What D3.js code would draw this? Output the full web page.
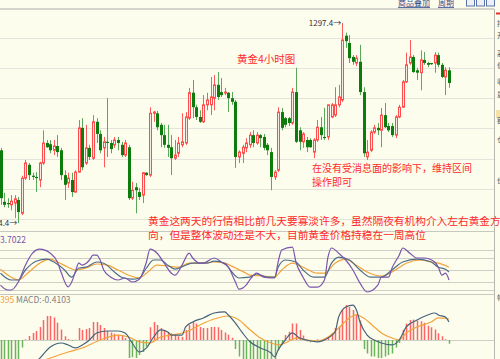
<!DOCTYPE html>
<meta charset="utf-8">
<style>
body { margin: 0; background: #fdfdee; }
svg { display: block; }
text { font-family: "Noto Sans CJK SC", "Noto Sans", sans-serif; }
</style>
<svg></svg>
<script src="https://d3js.org/d3.v7.min.js"></script>
<script>

var width = 500, height = 359;

// 4h candles
var opens = [1276.4,1267.9,1267.7,1267.4,1267.7,1268.2,1266.0,1271.8,1274.0,1272.2,1272.0,1271.5,1274.3,1277.6,1277.4,1276.4,1277.1,1276.4,1272.3,1271.0,
  1271.5,1269.5,1272.8,1280.1,1274.3,1276.8,1275.1,1281.1,1279.1,1276.8,1277.8,1277.6,1277.3,1278.1,1277.3,1275.6,1276.9,1268.5,1270.3,1269.5,
  1269.0,1272.7,1272.3,1282.5,1282.5,1280.6,1278.9,1277.3,1276.9,1275.1,1275.9,1277.3,1277.6,1281.7,1285.9,1283.5,1281.9,1281.1,1283.9,1283.9,
  1285.0,1287.2,1286.0,1285.9,1285.9,1285.0,1284.4,1275.3,1275.9,1276.8,1277.3,1278.9,1277.6,1278.9,1278.6,1277.3,1276.1,1272.0,1273.1,1282.7,
  1281.7,1281.7,1280.9,1286.0,1279.7,1277.8,1278.1,1278.1,1276.1,1278.1,1280.2,1278.6,1278.6,1281.9,1282.2,1283.9,1284.7,1295.3,1294.1,1291.8,
  1290.8,1291.0,1286.0,1275.3,1276.4,1279.4,1280.1,1279.7,1282.2,1280.4,1280.4,1278.9,1281.9,1283.5,1287.7,1290.8,1291.8,1289.6,1289.2,1291.3,
  1290.8,1290.8,1290.8,1292.1,1290.5,1288.5,1289.6];
var highs = [1276.8,1269.4,1268.5,1269.0,1269.0,1268.7,1272.2,1274.8,1274.3,1272.7,1272.8,1274.5,1279.7,1278.1,1278.1,1278.1,1278.9,1276.8,1273.1,1272.7,
  1272.7,1273.1,1281.4,1281.7,1280.6,1277.3,1282.2,1281.7,1279.7,1278.6,1285.0,1278.1,1278.6,1278.6,1277.8,1278.1,1277.3,1271.2,1271.0,1270.2,
  1272.8,1272.8,1283.5,1282.9,1282.9,1280.9,1280.6,1280.6,1278.9,1278.1,1278.6,1282.5,1282.7,1286.7,1288.0,1283.9,1283.0,1285.5,1285.9,1288.5,
  1288.8,1289.3,1288.3,1286.7,1286.0,1286.0,1284.7,1276.4,1277.3,1278.4,1279.4,1279.7,1279.4,1279.1,1279.1,1277.6,1276.8,1273.1,1283.5,1283.4,
  1281.9,1281.9,1286.7,1290.0,1280.2,1279.4,1278.6,1278.4,1278.4,1281.4,1281.9,1283.4,1283.9,1284.2,1286.8,1287.2,1297.4,1295.8,1295.4,1292.1,
  1292.1,1293.8,1286.8,1278.1,1279.7,1280.6,1280.9,1283.4,1284.2,1280.9,1280.9,1282.2,1283.9,1288.0,1292.5,1294.6,1292.1,1290.0,1292.9,1292.6,
  1291.0,1290.8,1292.6,1292.5,1290.8,1290.1,1290.1];
var lows = [1267.4,1267.0,1266.9,1266.5,1265.2,1264.4,1265.7,1271.5,1271.5,1271.5,1269.5,1270.3,1274.0,1276.8,1275.9,1275.6,1275.3,1271.5,1268.2,1270.2,
  1268.7,1269.4,1272.7,1273.1,1274.0,1274.8,1274.8,1277.6,1275.9,1273.6,1275.3,1275.9,1276.8,1276.4,1275.3,1275.3,1268.2,1268.2,1266.0,1268.2,
  1267.7,1272.2,1272.0,1281.1,1279.7,1276.9,1276.8,1275.3,1272.3,1274.8,1275.3,1276.9,1277.3,1281.4,1281.7,1281.4,1280.9,1280.9,1283.0,1282.2,
  1283.0,1284.7,1285.2,1285.5,1282.7,1283.9,1273.5,1274.3,1274.3,1276.1,1276.8,1276.9,1277.3,1276.9,1276.4,1275.6,1269.8,1271.5,1272.8,1279.7,
  1280.2,1280.4,1280.6,1277.6,1276.4,1276.8,1276.1,1276.8,1275.1,1277.8,1278.1,1278.1,1278.1,1281.7,1281.9,1283.5,1284.4,1293.3,1290.8,1290.5,
  1290.3,1285.5,1275.3,1274.8,1276.1,1279.1,1278.9,1276.9,1280.1,1279.4,1278.6,1278.4,1281.7,1283.4,1287.5,1290.5,1289.2,1288.0,1286.3,1290.5,
  1290.1,1290.5,1289.2,1290.1,1288.3,1285.5,1286.7];
var closes = [1268.5,1267.4,1267.5,1268.0,1268.4,1266.2,1271.8,1274.3,1272.3,1272.0,1271.8,1274.3,1277.6,1276.9,1276.4,1277.1,1276.1,1272.3,1270.7,1271.8,
  1269.5,1272.8,1280.1,1273.6,1276.8,1275.3,1281.1,1279.1,1276.4,1277.8,1277.6,1276.6,1278.1,1277.6,1275.6,1277.6,1268.5,1269.8,1269.8,1268.7,
  1272.7,1272.3,1282.5,1282.7,1280.2,1278.9,1277.3,1276.8,1275.1,1275.6,1277.6,1277.8,1281.9,1285.9,1283.5,1281.9,1281.1,1283.9,1284.7,1285.2,
  1287.2,1285.2,1285.5,1286.0,1285.0,1284.4,1275.3,1276.1,1276.9,1277.6,1278.9,1277.6,1278.9,1278.4,1276.8,1276.4,1272.0,1272.8,1282.7,1280.1,
  1280.6,1280.9,1286.0,1277.8,1277.8,1279.1,1276.9,1276.9,1278.1,1280.2,1278.9,1278.4,1283.9,1283.9,1283.9,1285.2,1294.6,1294.4,1291.6,1291.0,
  1291.6,1286.0,1275.9,1276.1,1279.4,1280.1,1279.7,1282.2,1280.2,1279.7,1278.9,1281.9,1283.5,1287.7,1290.5,1291.8,1289.3,1289.2,1291.3,1290.8,
  1290.5,1290.6,1292.1,1290.5,1288.5,1289.6,1287.5];

var priceTicks = [1265, 1270, 1275, 1280, 1285, 1290, 1295];

// KDJ lines: [candle index, value]
var kLine = [[0,42],[3,25],[5,25],[7,50],[10,72],[13,77],[15,70],[18,50],[20,32],[22,55],[24,57],[27,70],[29,67],[32,45],[34,32],[37,27],[39,30],
  [41,55],[43,75],[45,75],[47,62],[49,52],[52,62],[54,67],[58,67],[60,72],[63,67],[65,45],[67,30],[70,32],[72,40],[75,32],[77,32],[78,57],[80,75],
  [83,70],[85,50],[88,32],[91,32],[93,67],[95,82],[98,75],[101,50],[104,32],[107,32],[110,50],[113,70],[117,77],[121,70],[123,57],[125,52],[126,45]];
var dLine = [[0,52],[3,32],[5,25],[8,45],[11,67],[14,77],[16,70],[19,57],[21,50],[24,55],[27,65],[30,62],[33,50],[36,37],[39,30],[41,42],[44,62],
  [47,60],[50,57],[53,67],[56,67],[60,70],[63,67],[66,55],[69,42],[70,37],[74,35],[77,32],[79,50],[82,67],[85,57],[89,42],[91,42],[94,67],[97,77],
  [100,62],[103,45],[107,35],[110,45],[114,67],[118,75],[121,70],[123,67],[126,57]];
var jLine = [[0,12],[2,0],[3,0],[5,20],[7,62],[9,92],[11,102],[14,92],[16,70],[17,45],[19,8],[20,20],[21,45],[22,67],[23,62],[24,66],[25,75],[26,87],
  [27,87],[28,75],[29,50],[31,32],[33,25],[35,30],[37,20],[39,27],[41,70],[42,102],[44,92],[46,67],[48,42],[49,37],[51,62],[53,92],[54,80],[56,67],
  [57,67],[60,80],[62,70],[64,57],[66,20],[67,2],[69,12],[70,25],[72,42],[74,32],[76,30],[77,30],[78,70],[79,100],[82,107],[83,70],[85,32],[87,7],
  [89,7],[91,25],[92,82],[93,105],[95,92],[97,75],[99,50],[101,17],[103,-5],[106,12],[107,32],[109,32],[110,55],[112,87],[113,105],[115,92],
  [117,80],[119,80],[122,70],[123,57],[124,37],[125,42],[126,25]];
var kdjTicks = [0, 20, 50, 80, 100];

// MACD
var macdHist = [-1.5,-1.6,-1.6,-1.5,-1.5,-1.4,-0.5,0.05,
  0.27,0.47,0.6,0.87,1.33,1.6,1.6,1.5,1.15,0.7,0.25,0.07,-0.05,0.02,
  0.8,0.67,0.73,0.8,1.2,1.2,1.0,0.8,0.6,0.5,0.42,0.35,0.27,0.13,
  -1.2,-1.15,-1.2,-1.0,-0.8,-0.45,
  0.85,1.2,1.0,0.8,0.67,0.53,0.45,0.33,0.25,0.2,0.67,1.0,1.2,1.1,0.87,0.8,0.8,0.87,0.87,0.85,0.67,0.5,0.35,0.15,
  -0.6,-1.1,-1.4,-1.5,-1.5,-1.5,-1.6,-1.6,-1.5,-1.3,-1.4,-1.5,-0.7,-0.3,
  0.33,0.55,1.1,1.1,0.67,0.3,
  -0.1,-0.15,-0.08,0.05,-0.05,0.08,
  0.2,0.45,0.8,0.9,2.0,2.33,2.2,2.0,1.7,1.3,
  -0.6,-0.9,-1.1,-1.1,-1.2,-1.2,-1.1,-1.0,-0.9,-0.5,-0.2,
  0.67,1.1,1.33,1.36,1.3,1.25,1.15,0.95,0.85,0.7,0.45,0.25,0.05,-0.25];
var difLine = [[0,-2.1],[4,-2.5],[8,-1.9],[11,-1.22],[14,-0.47],[17,-0.2],[19,-0.33],[21,-0.53],[23,-0.33],[25,0],[27,0.47],[30,0.6],[33,0.6],
  [35,0.47],[37,-0.2],[39,-0.8],[41,-0.53],[43,0.2],[45,0.67],[47,0.53],[48,0.33],[51,0.33],[52,0.87],[54,1.2],[57,1.47],[60,1.8],[63,1.87],
  [64,1.67],[66,1.13],[68,0.47],[70,-0.1],[73,-0.53],[76,-0.87],[77,-1.13],[78,-0.67],[80,0],[82,0.47],[84,0.13],[86,0],[89,-0.13],[92,0.13],
  [94,0.53],[95,1.53],[97,2.2],[99,2.33],[100,2.0],[101,1.2],[103,0.33],[105,0],[107,-0.2],[110,-0.33],[112,0],[114,0.87],[117,1.33],[120,1.67],
  [122,1.8],[123,1.67],[125,1.53],[126,1.2]];
var deaLine = [[0,-2.3],[6,-2.0],[10,-1.55],[14,-1.2],[19,-0.8],[23,-0.53],[28,0],[33,0.33],[36,0.2],[39,-0.13],[42,-0.2],[45,0.2],[48,0.33],
  [52,0.53],[56,1.0],[60,1.4],[64,1.6],[67,1.33],[70,0.7],[73,0.13],[76,-0.2],[78,-0.33],[80,-0.2],[83,0.13],[86,0],[89,-0.07],[92,0.2],[95,0.8],
  [98,1.47],[100,1.67],[102,1.47],[105,0.87],[107,0.47],[110,0.13],[112,0],[114,0.47],[117,0.87],[121,1.2],[123,1.47],[126,1.4]];

var svg = d3.select("svg")
    .attr("width", width)
    .attr("height", height)
    .style("background", "#fdfdee");

var x = d3.scaleLinear().domain([0, 126]).range([0.5, 449]);
var y = d3.scaleLinear().domain([1264.4, 1297.4]).range([223, 23]);
var yk = d3.scaleLinear().domain([0, 100]).range([290, 250]);
var ym = d3.scaleLinear().domain([0, 1]).range([340, 325]);

var plotRight = 494;
function px(i) { return Math.round(x(i)) + 0.5; }

var defs = svg.append("defs");
defs.append("clipPath").attr("id", "cmain").append("rect").attr("x", 0).attr("y", 10).attr("width", plotRight).attr("height", 220);
defs.append("clipPath").attr("id", "ckdj").append("rect").attr("x", 0).attr("y", 236).attr("width", plotRight).attr("height", 58);
defs.append("clipPath").attr("id", "cmacd").append("rect").attr("x", 0).attr("y", 295).attr("width", plotRight).attr("height", 64);

// frame lines
svg.append("line").attr("x1", 0).attr("x2", plotRight).attr("y1", 9).attr("y2", 9)
    .attr("stroke", "#d4d4cc").attr("stroke-width", 2);
svg.append("line").attr("x1", 0).attr("x2", plotRight).attr("y1", 231.5).attr("y2", 231.5).attr("stroke", "#c8c8c0");
svg.append("line").attr("x1", 0).attr("x2", plotRight).attr("y1", 294.5).attr("y2", 294.5).attr("stroke", "#c8c8c0");
svg.append("line").attr("x1", plotRight + 0.5).attr("x2", plotRight + 0.5).attr("y1", 9).attr("y2", height).attr("stroke", "#b8b8b0");

// grids
svg.append("g").selectAll("line").data(priceTicks).join("line")
    .attr("x1", 0).attr("x2", plotRight)
    .attr("y1", function(d) { return Math.round(y(d)) + 0.5; })
    .attr("y2", function(d) { return Math.round(y(d)) + 0.5; })
    .attr("stroke", "#e4e4dc");
svg.append("g").selectAll("line").data(kdjTicks).join("line")
    .attr("x1", 0).attr("x2", plotRight)
    .attr("y1", function(d) { return Math.round(yk(d)) + 0.5; })
    .attr("y2", function(d) { return Math.round(yk(d)) + 0.5; })
    .attr("stroke", "#cfcfc8");
svg.append("line").attr("x1", 0).attr("x2", plotRight)
    .attr("y1", Math.round(ym(0)) + 0.5).attr("y2", Math.round(ym(0)) + 0.5)
    .attr("stroke", "#cfcfc8");

// candles
var idx = d3.range(opens.length);
var candles = svg.append("g").attr("clip-path", "url(#cmain)");
candles.selectAll("line").data(idx).join("line")
    .attr("x1", px).attr("x2", px)
    .attr("y1", function(i) { return y(highs[i]); })
    .attr("y2", function(i) { return y(lows[i]); })
    .attr("stroke", function(i) { return closes[i] >= opens[i] ? "#ff5a5a" : "#5aa85a"; });
candles.selectAll("rect").data(idx).join("rect")
    .attr("x", function(i) { return closes[i] >= opens[i] ? px(i) - 1 : px(i) - 1.5; })
    .attr("width", function(i) { return closes[i] >= opens[i] ? 2 : 3; })
    .attr("y", function(i) { return y(Math.max(opens[i], closes[i])); })
    .attr("height", function(i) { return Math.max(1, Math.abs(y(opens[i]) - y(closes[i]))); })
    .attr("fill", function(i) { return closes[i] >= opens[i] ? "#fbe9e2" : "#0c7c0c"; })
    .attr("stroke", function(i) { return closes[i] >= opens[i] ? "#ff4d4d" : "none"; })
    .attr("stroke-width", 1);

// high / low markers
var iHigh = d3.maxIndex(highs), iLow = d3.minIndex(lows);
svg.append("text").attr("x", x(iHigh) - 1).attr("y", y(highs[iHigh]) + 3)
    .attr("text-anchor", "end").attr("font-family", "DejaVu Sans Mono").attr("font-size", 8)
    .attr("fill", "#333344").text(highs[iHigh].toFixed(1) + "→");
svg.append("text").attr("x", x(iLow) - 1).attr("y", y(lows[iLow]) + 3)
    .attr("text-anchor", "end").attr("font-family", "DejaVu Sans Mono").attr("font-size", 8)
    .attr("fill", "#333344").text(lows[iLow].toFixed(1) + "→");

// KDJ
var kdjG = svg.append("g").attr("clip-path", "url(#ckdj)").attr("fill", "none").attr("stroke-width", 1.2);
var lk = d3.line().x(function(d) { return x(d[0]); }).y(function(d) { return yk(d[1]); }).curve(d3.curveMonotoneX);
kdjG.append("path").attr("d", lk(dLine)).attr("stroke", "#f2a33a");
kdjG.append("path").attr("d", lk(kLine)).attr("stroke", "#4d6d86");
kdjG.append("path").attr("d", lk(jLine)).attr("stroke", "#7a55ad");

// MACD
var macdG = svg.append("g").attr("clip-path", "url(#cmacd)");
macdG.selectAll("rect").data(idx).join("rect")
    .attr("x", function(i) { return px(i) - 0.75; })
    .attr("width", 1.5)
    .attr("y", function(i) { return Math.min(ym(0), ym(macdHist[i])); })
    .attr("height", function(i) { return Math.abs(ym(macdHist[i]) - ym(0)); })
    .attr("fill", function(i) { return macdHist[i] >= 0 ? "#ff6464" : "#6cb45c"; });
var lm = d3.line().x(function(d) { return x(d[0]); }).y(function(d) { return ym(d[1]); }).curve(d3.curveMonotoneX);
macdG.append("path").attr("d", lm(deaLine)).attr("fill", "none").attr("stroke", "#f2a33a").attr("stroke-width", 1.2);
macdG.append("path").attr("d", lm(difLine)).attr("fill", "none").attr("stroke", "#45627a").attr("stroke-width", 1.2);

// panel labels
svg.append("text").attr("x", 0).attr("y", 243).attr("font-family", "DejaVu Sans").attr("font-size", 8.5)
    .attr("fill", "#7a55ad").text("3.7022");
var ml = svg.append("text").attr("x", 0).attr("y", 303).attr("font-family", "DejaVu Sans").attr("font-size", 8.5);
ml.append("tspan").attr("fill", "#f2a33a").text("395 ");
ml.append("tspan").attr("fill", "#808080").text("MACD:-0.4103");

// annotations
var red = "#ff2a2a";
svg.append("text").attr("x", 237).attr("y", 63).attr("font-size", 10.5).attr("fill", red).text("黄金4小时图");
svg.append("text").attr("x", 312).attr("y", 172).attr("font-size", 10).attr("fill", red).text("在没有受消息面的影响下，维持区间");
svg.append("text").attr("x", 312).attr("y", 186).attr("font-size", 10).attr("fill", red).text("操作即可");
svg.append("text").attr("x", 148).attr("y", 225).attr("font-size", 10.7).attr("fill", red)
    .text("黄金这两天的行情相比前几天要寡淡许多，虽然隔夜有机构介入左右黄金方");
svg.append("text").attr("x", 148).attr("y", 239).attr("font-size", 10.7).attr("fill", red)
    .text("向，但是整体波动还是不大，目前黄金价格持稳在一周高位");

// top toolbar (cut off at the top edge)
var tb = svg.append("g").attr("fill", "#2d4f8f").attr("font-size", 8);
tb.append("text").attr("x", 398).attr("y", 6).attr("text-decoration", "underline").text("商品叠加");
tb.append("text").attr("x", 438).attr("y", 6).attr("text-decoration", "underline").text("周期");
[466, 476, 486].forEach(function(bx) {
  svg.append("rect").attr("x", bx + 0.5).attr("y", -3).attr("width", 8).attr("height", 9)
      .attr("fill", "#eef0f6").attr("stroke", "#5a76a8");
});

// right side panel fragments
svg.append("line").attr("x1", 496).attr("x2", 500).attr("y1", 13.5).attr("y2", 13.5).attr("stroke", "#e03030").attr("stroke-width", 2);
svg.append("rect").attr("x", 496).attr("y", 110).attr("width", 4).attr("height", 8).attr("fill", "#f3e2a8");
var rightChars = ["持", "开", "高", "低", "收", "量", "额", "仓", "价", "幅"];
var rightY = [26, 38, 56, 68, 84, 97, 123, 142, 183, 300];
svg.append("g").selectAll("text").data(rightChars).join("text")
    .attr("x", 497).attr("y", function(d, i) { return rightY[i]; })
    .attr("font-size", 7).attr("fill", "#555").text(function(d) { return d; });

</script>
